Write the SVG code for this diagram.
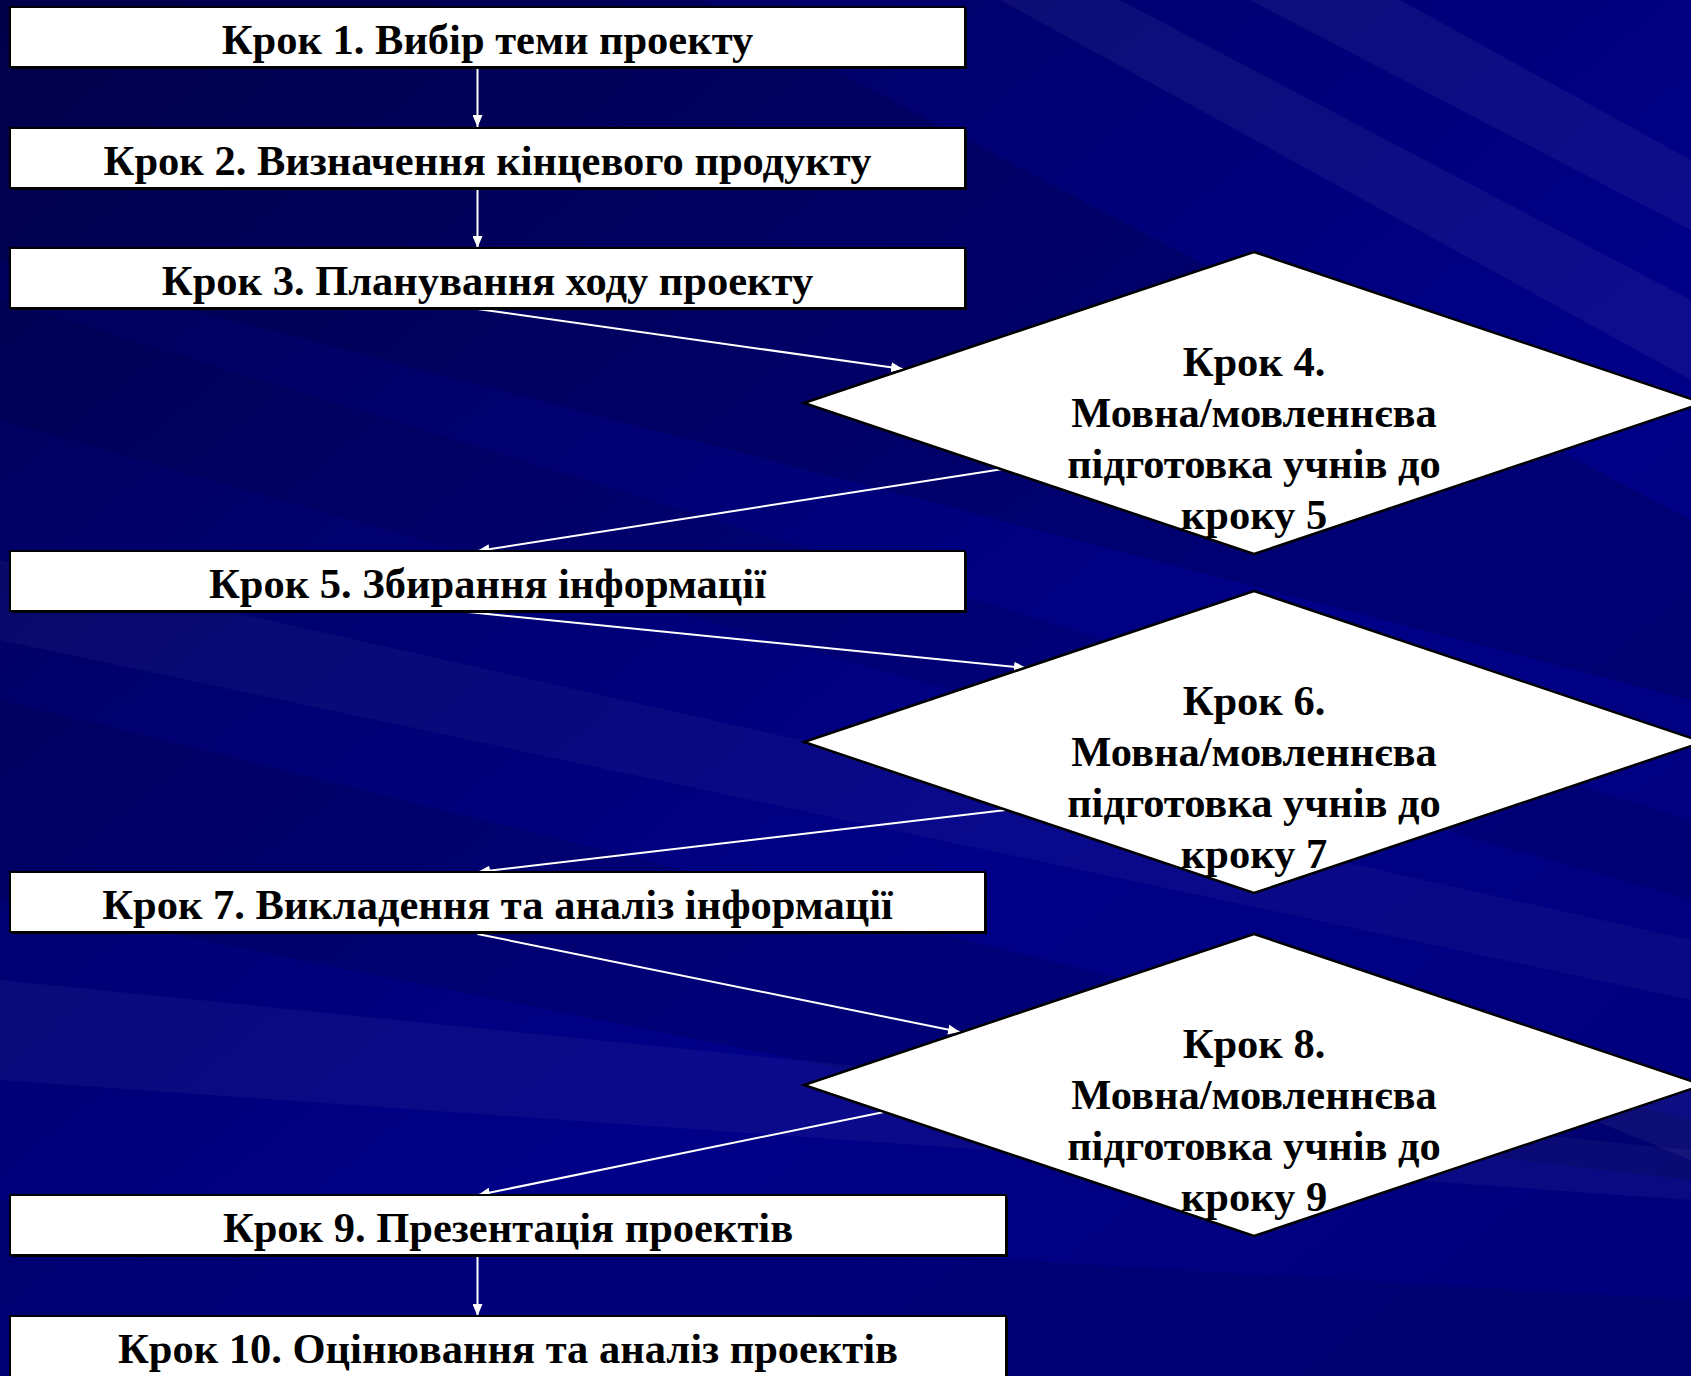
<svg xmlns="http://www.w3.org/2000/svg" width="1691" height="1376" viewBox="0 0 1691 1376">
<defs>
<linearGradient id="bg" x1="0" y1="0" x2="1" y2="1">
<stop offset="0" stop-color="#000050"/>
<stop offset="0.35" stop-color="#000074"/>
<stop offset="0.6" stop-color="#000088"/>
<stop offset="1" stop-color="#00007a"/>
</linearGradient>
<marker id="ah" markerUnits="userSpaceOnUse" markerWidth="13" markerHeight="10" refX="12" refY="5" orient="auto">
<path d="M0,0 L12,5 L0,10 z" fill="#ffffff"/>
</marker>
<style>
.box{fill:#ffffff;stroke:#000000;stroke-width:2}
.sh{fill:#000000}
.dia{fill:#ffffff;stroke:#000000;stroke-width:2.5}
.t{font-family:"Liberation Serif","Times New Roman",serif;font-weight:bold;font-size:42.5px;fill:#000000;text-anchor:middle}
.c{stroke:#ffffff;stroke-width:2;fill:none;marker-end:url(#ah)}
.ray{fill:#ffffff}
.dk{fill:#000030}
</style>
</defs>
<rect width="1691" height="1376" fill="url(#bg)"/>
<g id="background-streaks">
<polygon class="dk" opacity="0.22" points="0,0 700,0 1691,520 1691,700 0,260"/>
<polygon class="ray" opacity="0.05" points="1000,0 1120,0 1691,300 1691,380"/>
<polygon class="ray" opacity="0.05" points="1250,0 1400,0 1691,160 1691,230"/>
<polygon class="dk" opacity="0.15" points="0,300 0,420 1691,900 1691,820"/>
<polygon class="ray" opacity="0.035" points="0,560 0,640 1691,1000 1691,940"/>
<polygon class="dk" opacity="0.18" points="0,700 0,900 1000,1100 1691,1180 1691,1120"/>
<polygon class="ray" opacity="0.04" points="0,980 0,1080 1691,1200 1691,1150"/>
<polygon class="ray" opacity="0.05" points="1300,1000 1691,1080 1691,1160"/>
<polygon class="dk" opacity="0.15" points="0,1200 0,1376 1691,1376 1691,1300"/>
</g>
<g id="connectors">
<line class="c" x1="477.5" y1="68" x2="477.5" y2="127"/>
<line class="c" x1="477.5" y1="189" x2="477.5" y2="248"/>
<line class="c" x1="477.5" y1="309" x2="903" y2="369"/>
<line class="c" x1="1003" y1="469" x2="477.5" y2="551"/>
<line class="c" x1="458" y1="611" x2="1026" y2="668"/>
<line class="c" x1="1006" y1="810" x2="478" y2="872"/>
<line class="c" x1="477.5" y1="934" x2="960" y2="1032"/>
<line class="c" x1="884" y1="1112" x2="478" y2="1195"/>
<line class="c" x1="477.5" y1="1256" x2="477.5" y2="1316"/>
</g>
<g id="step1"><rect class="sh" x="12" y="9" width="955" height="60"/><rect class="box" x="10" y="7" width="955" height="60"/><text class="t" x="487.5" y="54">Крок 1. Вибір теми проекту</text></g>
<g id="step2"><rect class="sh" x="12" y="130" width="955" height="60"/><rect class="box" x="10" y="128" width="955" height="60"/><text class="t" x="487.5" y="175">Крок 2. Визначення кінцевого продукту</text></g>
<g id="step3"><rect class="sh" x="12" y="250" width="955" height="60"/><rect class="box" x="10" y="248" width="955" height="60"/><text class="t" x="487.5" y="295">Крок 3. Планування ходу проекту</text></g>
<g id="step4"><polygon class="dia" points="1254,252 1703,403 1254,554 804,403"/><text class="t" x="1254" y="376">Крок 4.</text><text class="t" x="1254" y="427">Мовна/мовленнєва</text><text class="t" x="1254" y="478">підготовка учнів до</text><text class="t" x="1254" y="529">кроку 5</text></g>
<g id="step5"><rect class="sh" x="12" y="553" width="955" height="60"/><rect class="box" x="10" y="551" width="955" height="60"/><text class="t" x="487.5" y="598">Крок 5. Збирання інформації</text></g>
<g id="step6"><polygon class="dia" points="1254,591 1703,742 1254,893 804,742"/><text class="t" x="1254" y="715">Крок 6.</text><text class="t" x="1254" y="766">Мовна/мовленнєва</text><text class="t" x="1254" y="817">підготовка учнів до</text><text class="t" x="1254" y="868">кроку 7</text></g>
<g id="step7"><rect class="sh" x="12" y="874" width="975" height="60"/><rect class="box" x="10" y="872" width="975" height="60"/><text class="t" x="497.5" y="919">Крок 7. Викладення та аналіз інформації</text></g>
<g id="step8"><polygon class="dia" points="1254,934 1703,1085 1254,1236 804,1085"/><text class="t" x="1254" y="1058">Крок 8.</text><text class="t" x="1254" y="1109">Мовна/мовленнєва</text><text class="t" x="1254" y="1160">підготовка учнів до</text><text class="t" x="1254" y="1211">кроку 9</text></g>
<g id="step9"><rect class="sh" x="12" y="1197" width="996" height="60"/><rect class="box" x="10" y="1195" width="996" height="60"/><text class="t" x="508" y="1242">Крок 9. Презентація проектів</text></g>
<g id="step10"><rect class="sh" x="12" y="1318" width="996" height="70"/><rect class="box" x="10" y="1316" width="996" height="70"/><text class="t" x="508" y="1363">Крок 10. Оцінювання та аналіз проектів</text></g>
</svg>
